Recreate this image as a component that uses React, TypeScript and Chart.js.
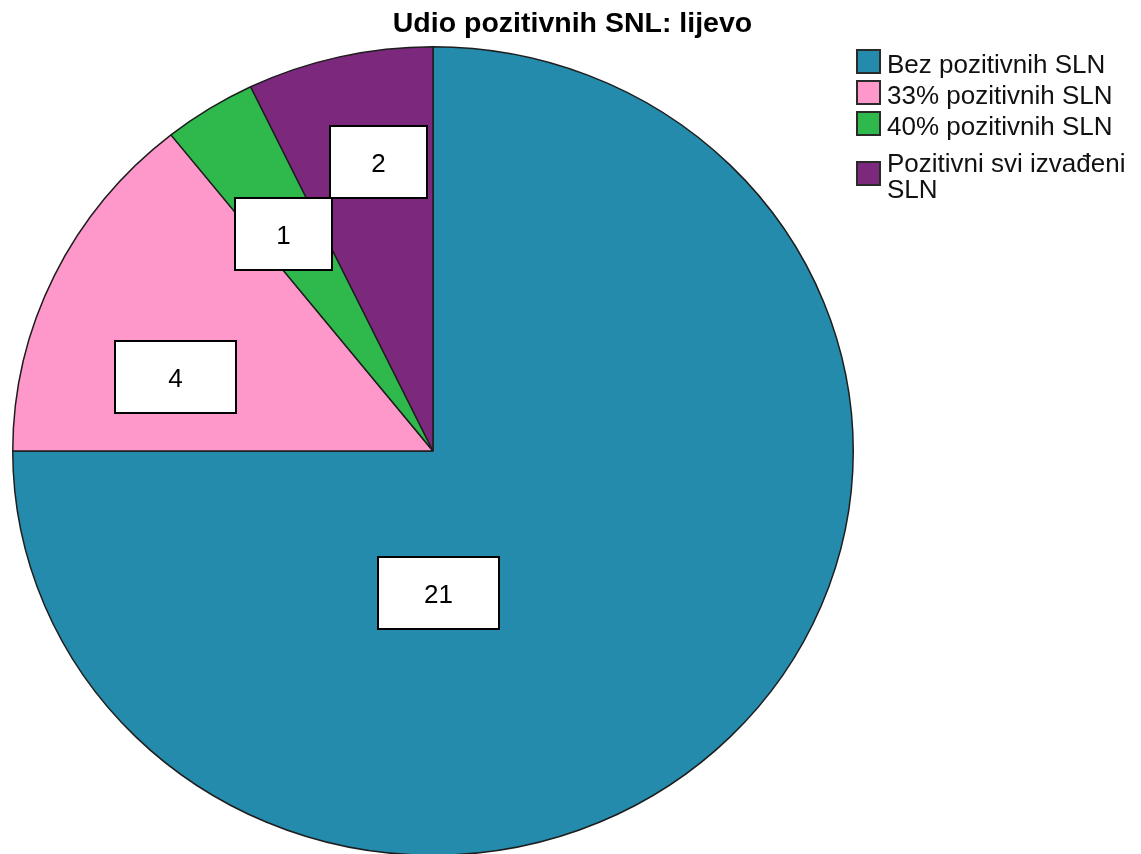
import React, { useEffect, useRef } from "react";
import { Chart, registerables } from "chart.js";

Chart.register(...registerables);

const chartTitle = "Udio pozitivnih SNL: lijevo";
const categories = [
  "Bez pozitivnih SLN",
  "33% pozitivnih SLN",
  "40% pozitivnih SLN",
  "Pozitivni svi izvađeni SLN",
];
const counts = [21, 4, 1, 2];
const sliceColors = ["#248BAC", "#FE98CA", "#2FB84B", "#7B287D"];

// Label box placement relative to each slice: fraction of the slice's sweep,
// fraction of the radius, and box width.
const labelPlacement = [
  { t: 0.659, r: 0.351, w: 121 },
  { t: 0.323, r: 0.639, w: 121 },
  { t: 0.387, r: 0.645, w: 97 },
  { t: 0.603, r: 0.726, w: 97 },
];
const LABEL_H = 72;
const Y_SQUASH = 405 / 421;

const CANVAS_W = 1141;
const CANVAS_H = 902;

const ellipsePlugin = {
  id: "ellipseAndLabels",
  beforeDatasetsDraw(chart: any) {
    const arc = chart.getDatasetMeta(0).data[0];
    const ctx = chart.ctx;
    ctx.save();
    ctx.translate(0, arc.y);
    ctx.scale(1, Y_SQUASH);
    ctx.translate(0, -arc.y);
  },
  afterDatasetsDraw(chart: any) {
    const ctx = chart.ctx;
    ctx.restore();
    const meta = chart.getDatasetMeta(0);
    meta.data.forEach((el: any, i: number) => {
      const p = el.getProps(["x", "y", "startAngle", "endAngle", "outerRadius"], true);
      const pl = labelPlacement[i];
      const a = p.startAngle + (p.endAngle - p.startAngle) * pl.t;
      const cx = p.x + Math.cos(a) * p.outerRadius * pl.r;
      const cy = p.y + Math.sin(a) * p.outerRadius * pl.r * Y_SQUASH;
      const w = pl.w;
      const h = LABEL_H;
      const x0 = Math.round(cx - w / 2);
      const y0 = Math.round(cy - h / 2);
      ctx.save();
      ctx.fillStyle = "#ffffff";
      ctx.fillRect(x0, y0, w, h);
      ctx.lineWidth = 2;
      ctx.strokeStyle = "#000000";
      ctx.strokeRect(x0, y0, w, h);
      ctx.fillStyle = "#000000";
      ctx.font = '26px "Liberation Sans", Arial, sans-serif';
      ctx.textAlign = "center";
      ctx.textBaseline = "middle";
      ctx.fillText(String(counts[i]), x0 + w / 2, y0 + h / 2 + 3);
      ctx.restore();
    });
  },
};

export default function App() {
  const canvasRef = useRef<HTMLCanvasElement | null>(null);

  useEffect(() => {
    document.body.style.margin = "0";
    document.body.style.overflow = "hidden";
    document.documentElement.style.overflow = "hidden";
    const canvas = canvasRef.current;
    if (!canvas) return;
    const chart = new Chart(canvas, {
      type: "pie",
      data: {
        labels: categories,
        datasets: [
          {
            data: counts,
            backgroundColor: sliceColors,
            borderColor: "#1e1e1e",
            borderWidth: 1.5,
          },
        ],
      },
      options: {
        responsive: false,
        animation: false,
        layout: { padding: { left: 12, right: 287, top: 30, bottom: 30 } },
        plugins: {
          legend: { display: false },
          title: { display: false },
          tooltip: { enabled: false },
        },
      },
      plugins: [ellipsePlugin],
    });
    return () => chart.destroy();
  }, []);

  return (
    <div
      style={{
        position: "relative",
        width: CANVAS_W,
        height: 854,
        overflow: "hidden",
        background: "#fff",
        fontFamily: '"Liberation Sans", Arial, sans-serif',
      }}
    >
      <canvas
        ref={canvasRef}
        width={CANVAS_W}
        height={CANVAS_H}
        style={{ position: "absolute", left: 0, top: 0, width: CANVAS_W, height: CANVAS_H }}
      />
      <div
        style={{
          position: "absolute",
          left: 0,
          width: CANVAS_W + 4,
          top: 6,
          textAlign: "center",
          fontWeight: "bold",
          fontSize: "28.5px",
          lineHeight: "32px",
          color: "#000",
        }}
      >
        {chartTitle}
      </div>
      <div
        style={{
          position: "absolute",
          left: 856,
          top: 51,
          display: "flex",
          flexDirection: "column",
          gap: 5,
        }}
      >
        {categories.map((c, i) => (
          <div
            key={c}
            style={{
              display: "flex",
              alignItems: "center",
              marginTop: i === 3 ? 6 : 0,
            }}
          >
            <div
              style={{
                width: 21,
                height: 21,
                background: sliceColors[i],
                border: "2px solid #2a2a2a",
                flex: "0 0 auto",
                position: "relative",
                top: -3,
              }}
            />
            <div
              style={{
                marginLeft: 6,
                fontSize: "26px",
                lineHeight: "26px",
                color: "#111",
                width: 252,
              }}
            >
              {c}
            </div>
          </div>
        ))}
      </div>
    </div>
  );
}
